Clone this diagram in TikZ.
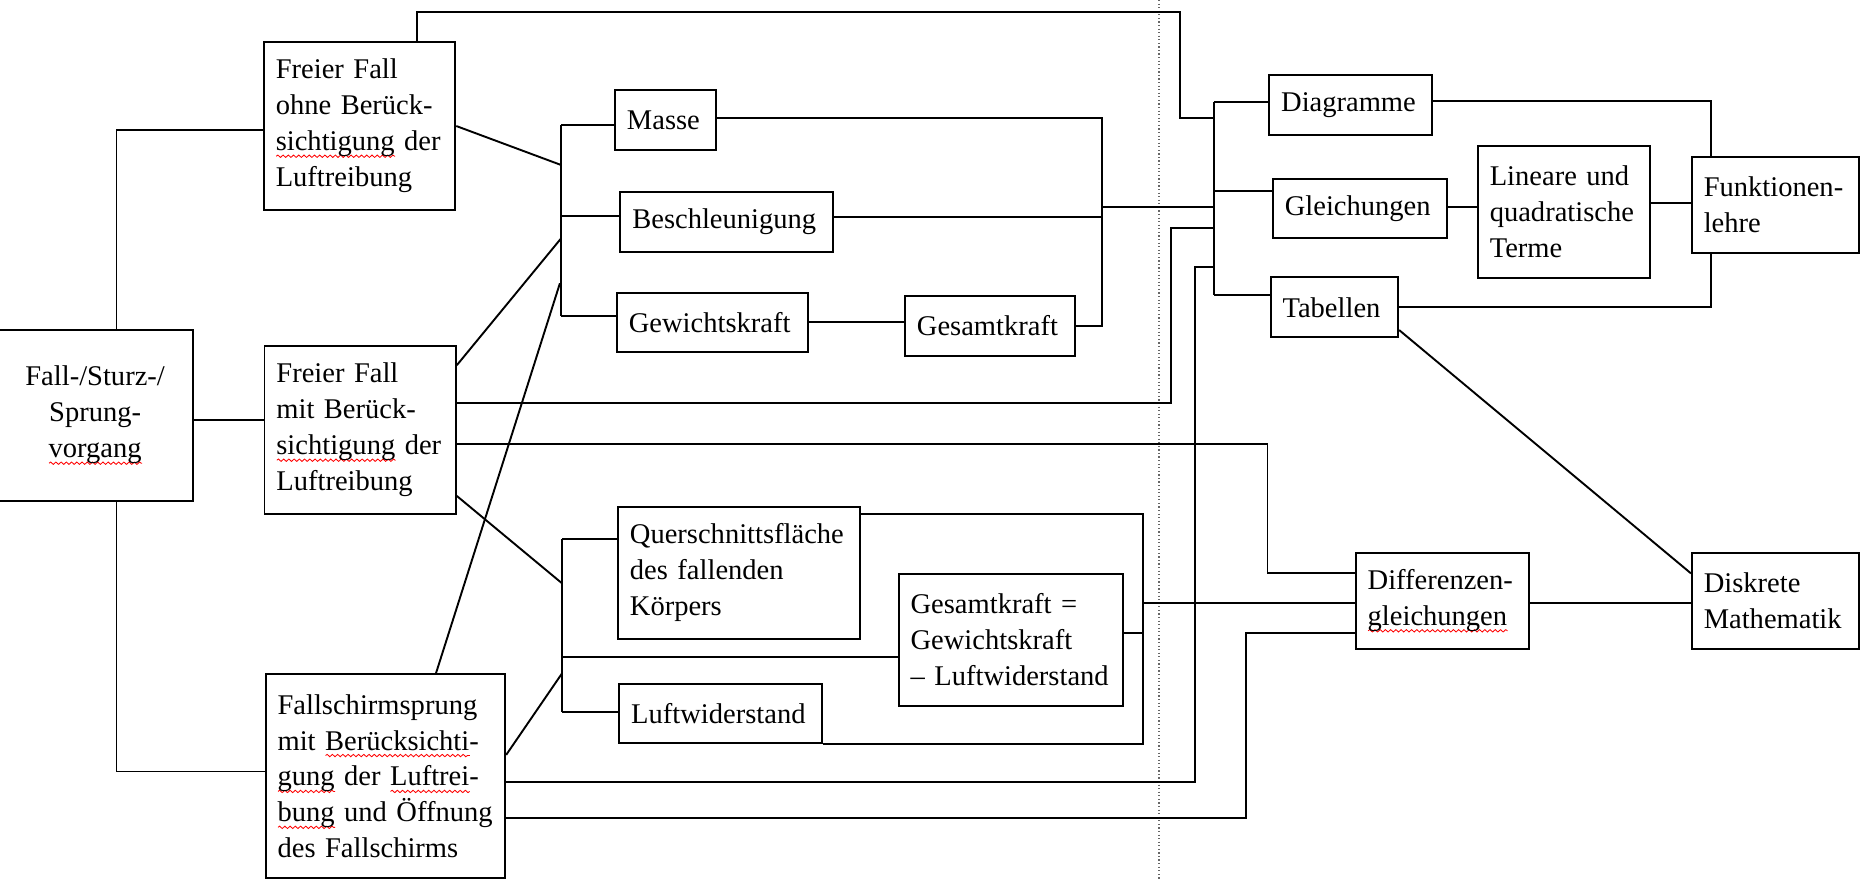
\documentclass[tikz,border=0pt]{standalone}
\usepackage{fontspec}
\setmainfont{Liberation Serif}
\usetikzlibrary{calc,decorations.pathmorphing}

\newsavebox\wellenbox
\newcommand\wellig[1]{\leavevmode\sbox\wellenbox{#1}\rlap{\tikz[baseline=0pt]\draw[red, line width=0.35pt, decorate,
    decoration={snake, amplitude=0.5pt, segment length=2.2pt}] (0pt,-2.3pt) -- (\wd\wellenbox,-2.3pt);}\usebox\wellenbox}
\hyphenpenalty=10000

\begin{document}
\begin{tikzpicture}[x=0.5pt,y=-0.5pt,
    kasten/.style={draw, line width=0.8pt, inner xsep=5pt, inner ysep=0pt, align=left, font=\fontsize{12}{15.1}\selectfont},
    linie/.style={line width=0.8pt}]
        \useasboundingbox (0,0) rectangle (1568,739);

        %Line: page border (dotted)
        \draw[densely dotted, line width=0.5pt, black!60] (975,0) -- (975,739);

        %Shape: left column
        \node[kasten, align=center, text width=72pt, minimum height=72pt] (fall) at (80,349.5) {Fall-/Sturz-/\\Sprung-\\\wellig{vorgang}};
        \node[kasten, text width=70.5pt, minimum height=71pt] (ffohne) at (302.5,106) {Freier Fall\\ohne Berück-\\\wellig{sichtigung} der\\Luftreibung};
        \node[kasten, text width=70.5pt, minimum height=70.7pt] (ffmit) at (303,361.7) {Freier Fall\\mit Berück-\\\wellig{sichtigung} der\\Luftreibung};
        \node[kasten, text width=90.75pt, minimum height=85.65pt] (fschirm) at (324.25,652.95) {Fallschirmsprung\\mit \wellig{Berücksichti}-\\\wellig{gung} der \wellig{Luftrei}-\\\wellig{bung} und Öffnung\\des Fallschirms};

        %Shape: physics boxes
        \node[kasten, text width=32.5pt, minimum height=25.25pt] (masse) at (559.9,101) {Masse};
        \node[kasten, text width=79.3pt, minimum height=25.25pt] (beschl) at (611.2,186.5) {Beschleunigung};
        \node[kasten, text width=70.35pt, minimum height=24.85pt] (gewkraft) at (599.35,271.55) {Gewichtskraft};
        \node[kasten, text width=61.5pt, minimum height=25.25pt] (gesamt) at (832.8,274.25) {Gesamtkraft};
        \node[kasten, text width=91.75pt, minimum height=55.65pt] (quer) at (621.65,481.85) {Querschnittsfläche\\des fallenden\\Körpers};
        \node[kasten, text width=84.45pt, minimum height=55.25pt] (gesgl) at (850.45,538.35) {Gesamtkraft =\\Gewichtskraft\\–~Luftwiderstand};
        \node[kasten, text width=75.4pt, minimum height=24.65pt] (luftw) at (606.4,600.05) {Luftwiderstand};

        %Shape: mathematics boxes
        \node[kasten, text width=58.55pt, minimum height=25.25pt] (diagr) at (1136.25,88.35) {Diagramme};
        \node[kasten, text width=63.35pt, minimum height=24.8pt] (gleich) at (1144.15,175.7) {Gleichungen};
        \node[kasten, text width=62.4pt, minimum height=55.8pt] (terme) at (1315.6,178.3) {Lineare und\\quadratische\\Terme};
        \node[kasten, text width=60.3pt, minimum height=40.4pt] (funkt) at (1493.5,172.2) {Funktionen-\\lehre};
        \node[kasten, text width=43.6pt, minimum height=25.25pt] (tab) at (1122.5,258.55) {Tabellen};
        \node[kasten, text width=63pt, minimum height=40.55pt] (diffgl) at (1213.5,505.45) {Differenzen-\\\wellig{gleichungen}};
        \node[kasten, text width=60.3pt, minimum height=40.55pt] (diskr) at (1493.5,505.45) {Diskrete\\Mathematik};

        %Coordinates: bends and bars
        \coordinate (k1) at (98,109.4);
        \coordinate (k2) at (190,353);
        \coordinate (k3) at (98,649);
        \coordinate (t1) at (351,9.8);
        \coordinate (t2) at (992.3,99.5);
        \coordinate (a1) at (472,105);
        \coordinate (a2) at (472,182);
        \coordinate (a3) at (472,266);
        \coordinate (a4) at (472,138.8);
        \coordinate (a5) at (472,200.5);
        \coordinate (a6) at (471,238.3);
        \coordinate (r1) at (926.7,99.5);
        \coordinate (r2) at (926.7,182.8);
        \coordinate (r3) at (926.7,173.9);
        \coordinate (r4) at (720,270.5);
        \coordinate (b0) at (1021,85.5);
        \coordinate (b1) at (1021,99.5);
        \coordinate (b2) at (1021,161);
        \coordinate (b3) at (1021,173.9);
        \coordinate (b4) at (1021,191.5);
        \coordinate (b5) at (1021,224.3);
        \coordinate (b6) at (1021,248.2);
        \coordinate (m1) at (985,339);
        \coordinate (f1) at (1005,658);
        \coordinate (f2) at (1047.8,688.4);
        \coordinate (f3) at (1100,532.8);
        \coordinate (d1) at (1066.2,373.5);
        \coordinate (d2) at (1066.2,482.3);
        \coordinate (c1) at (472.8,453.7);
        \coordinate (c2) at (472.8,552.4);
        \coordinate (c3) at (472.8,598.6);
        \coordinate (c4) at (472.8,490.7);
        \coordinate (c5) at (472.8,566.4);
        \coordinate (c6) at (440,635);
        \coordinate (q1) at (961.4,432.4);
        \coordinate (q2) at (961.4,532.2);
        \coordinate (q3) at (961.4,507.5);
        \coordinate (g1) at (1439.3,84.7);
        \coordinate (g2) at (1230,173.9);
        \coordinate (g3) at (1400,170.5);
        \coordinate (g4) at (1439,258);
        \coordinate (g5) at (1400,482.3);

        %Lines: left column
        \draw[linie] (fall.north -| k1) |- (ffohne.west |- k1);
        \draw[linie] (fall.east |- k2) -- (ffmit.west |- k2);
        \draw[linie] (fall.south -| k1) |- (fschirm.west |- k3);

        %Lines: upper bar
        \draw[linie] (ffohne.east) -- (a4);
        \draw[linie] ($(ffmit.north east)+(0,17)$) -- (a5);
        \draw[linie] ($(fschirm.north west)+(144,0)$) -- (a6);
        \draw[linie] (a1) -- (a3);
        \draw[linie] (a1) -- (masse.west |- a1);
        \draw[linie] (a2) -- (beschl.west |- a2);
        \draw[linie] (a3) -- (gewkraft.west |- a3);
        \draw[linie] (masse.east |- r1) -- (r1) |- (gesamt.east);
        \draw[linie] (beschl.east |- r2) -- (r2);
        \draw[linie] (gewkraft.east |- r4) -- (gesamt.west |- r4);
        \draw[linie] (r3) -- (b3);

        %Lines: lower bar
        \draw[linie] ($(ffmit.south east)+(0,-16)$) -- (c4);
        \draw[linie] (fschirm.east |- c6) -- (c5);
        \draw[linie] (c1) -- (c3);
        \draw[linie] (c1) -- (quer.west |- c1);
        \draw[linie] (c2) -- (gesgl.west |- c2);
        \draw[linie] (c3) -- (luftw.west |- c3);
        \draw[linie] (quer.east |- q1) -- (q1) |- (luftw.south east);
        \draw[linie] (gesgl.east |- q2) -- (q2);
        \draw[linie] (q3) -- (diffgl.west |- q3);

        %Lines: across to the right
        \draw[linie] (ffohne.north -| t1) -- (t1) -| (t2) -- (b1);
        \draw[linie] (ffmit.east |- m1) -- (m1) |- (b4);
        \draw[linie] (fschirm.east |- f1) -- (f1) |- (b5);
        \draw[linie] (ffmit.east |- d1) -| (d2) -- (diffgl.west |- d2);
        \draw[linie] (fschirm.east |- f2) -- (f2) |- (diffgl.west |- f3);

        %Lines: mathematics
        \draw[linie] (b0) -- (b6);
        \draw[linie] (b0) -- (diagr.west |- b0);
        \draw[linie] (b2) -- (gleich.west |- b2);
        \draw[linie] (b6) -- (tab.west |- b6);
        \draw[linie] (diagr.east |- g1) -| (funkt.north -| g1);
        \draw[linie] (gleich.east |- g2) -- (terme.west |- g2);
        \draw[linie] (terme.east |- g3) -- (funkt.west |- g3);
        \draw[linie] (tab.east |- g4) -| (funkt.south -| g4);
        \draw[linie] ($(tab.south east)+(0,-7)$) -- (diskr.west |- g5);
        \draw[linie] (diffgl.east |- q3) -- (diskr.west |- q3);
    \end{tikzpicture}
\end{document}
